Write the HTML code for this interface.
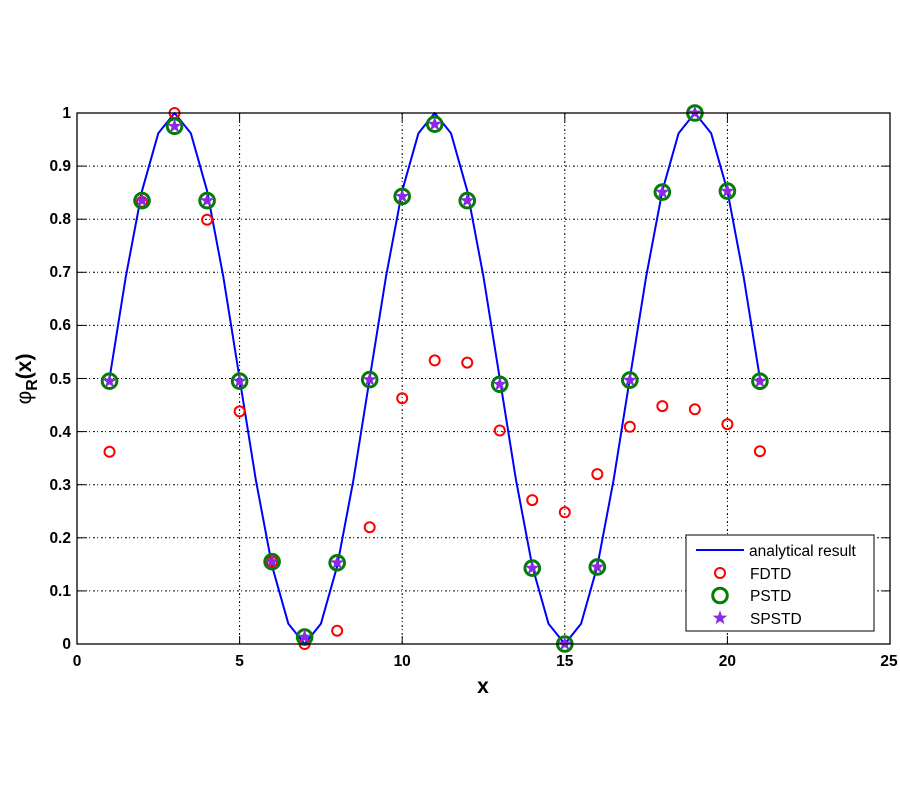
<!DOCTYPE html>
<html>
<head>
<meta charset="utf-8">
<style>
html,body{margin:0;padding:0;background:#fff;}
svg{display:block;}
text{font-family:"Liberation Sans",Arial,sans-serif;}
</style>
</head>
<body>
<svg width="900" height="800" viewBox="0 0 900 800" xmlns="http://www.w3.org/2000/svg">
<defs>
<polygon id="st" points="0,-6.5 1.53,-2.1 6.18,-2.01 2.47,0.8 3.82,5.26 0,2.6 -3.82,5.26 -2.47,0.8 -6.18,-2.01 -1.53,-2.1" fill="#8a2be2" stroke="#8a2be2" stroke-width="0.8"/>
</defs>
<rect x="0" y="0" width="900" height="800" fill="#fff"/>
<rect x="77" y="113" width="813" height="531" fill="#fff"/>
<!-- grid -->
<g stroke="#000" stroke-width="1" stroke-dasharray="2,2,1,3" fill="none">
<line x1="239.6" y1="113" x2="239.6" y2="644"/>
<line x1="402.2" y1="113" x2="402.2" y2="644"/>
<line x1="564.8" y1="113" x2="564.8" y2="644"/>
<line x1="727.4" y1="113" x2="727.4" y2="644"/>
<line x1="77" y1="590.9" x2="890" y2="590.9"/>
<line x1="77" y1="537.8" x2="890" y2="537.8"/>
<line x1="77" y1="484.7" x2="890" y2="484.7"/>
<line x1="77" y1="431.6" x2="890" y2="431.6"/>
<line x1="77" y1="378.5" x2="890" y2="378.5"/>
<line x1="77" y1="325.4" x2="890" y2="325.4"/>
<line x1="77" y1="272.3" x2="890" y2="272.3"/>
<line x1="77" y1="219.2" x2="890" y2="219.2"/>
<line x1="77" y1="166.1" x2="890" y2="166.1"/>
</g>
<!-- ticks -->
<g stroke="#000" stroke-width="1">
<line x1="239.6" y1="644" x2="239.6" y2="636"/><line x1="239.6" y1="113" x2="239.6" y2="121"/>
<line x1="402.2" y1="644" x2="402.2" y2="636"/><line x1="402.2" y1="113" x2="402.2" y2="121"/>
<line x1="564.8" y1="644" x2="564.8" y2="636"/><line x1="564.8" y1="113" x2="564.8" y2="121"/>
<line x1="727.4" y1="644" x2="727.4" y2="636"/><line x1="727.4" y1="113" x2="727.4" y2="121"/>
<line x1="77" y1="590.9" x2="85" y2="590.9"/><line x1="890" y1="590.9" x2="882" y2="590.9"/>
<line x1="77" y1="537.8" x2="85" y2="537.8"/><line x1="890" y1="537.8" x2="882" y2="537.8"/>
<line x1="77" y1="484.7" x2="85" y2="484.7"/><line x1="890" y1="484.7" x2="882" y2="484.7"/>
<line x1="77" y1="431.6" x2="85" y2="431.6"/><line x1="890" y1="431.6" x2="882" y2="431.6"/>
<line x1="77" y1="378.5" x2="85" y2="378.5"/><line x1="890" y1="378.5" x2="882" y2="378.5"/>
<line x1="77" y1="325.4" x2="85" y2="325.4"/><line x1="890" y1="325.4" x2="882" y2="325.4"/>
<line x1="77" y1="272.3" x2="85" y2="272.3"/><line x1="890" y1="272.3" x2="882" y2="272.3"/>
<line x1="77" y1="219.2" x2="85" y2="219.2"/><line x1="890" y1="219.2" x2="882" y2="219.2"/>
<line x1="77" y1="166.1" x2="85" y2="166.1"/><line x1="890" y1="166.1" x2="882" y2="166.1"/>
</g>
<!-- analytical line -->
<polyline fill="none" stroke="#0000ff" stroke-width="2" stroke-linejoin="round" points="109.52,378.5 125.78,276.9 142.04,190.8 158.3,133.2 174.56,113 190.82,133.2 207.08,190.8 223.34,276.9 239.6,378.5 255.86,480.1 272.12,566.2 288.38,623.8 304.64,644 320.9,623.8 337.16,566.2 353.42,480.1 369.68,378.5 385.94,276.9 402.2,190.8 418.46,133.2 434.72,113 450.98,133.2 467.24,190.8 483.5,276.9 499.76,378.5 516.02,480.1 532.28,566.2 548.54,623.8 564.8,644 581.06,623.8 597.32,566.2 613.58,480.1 629.84,378.5 646.1,276.9 662.36,190.8 678.62,133.2 694.88,113 711.14,133.2 727.4,190.8 743.66,276.9 759.92,378.5"/>
<!-- FDTD -->
<g fill="none" stroke="#ff0000" stroke-width="2">
<circle cx="109.52" cy="451.8" r="5"/>
<circle cx="142.04" cy="201.7" r="5"/>
<circle cx="174.56" cy="113" r="5"/>
<circle cx="207.08" cy="219.7" r="5"/>
<circle cx="239.6" cy="411.4" r="5"/>
<circle cx="272.12" cy="561.7" r="5"/>
<circle cx="304.64" cy="644" r="5"/>
<circle cx="337.16" cy="630.7" r="5"/>
<circle cx="369.68" cy="527.2" r="5"/>
<circle cx="402.2" cy="398.3" r="5"/>
<circle cx="434.72" cy="360.4" r="5"/>
<circle cx="467.24" cy="362.6" r="5"/>
<circle cx="499.76" cy="430.5" r="5"/>
<circle cx="532.28" cy="500.1" r="5"/>
<circle cx="564.8" cy="512.3" r="5"/>
<circle cx="597.32" cy="474.1" r="5"/>
<circle cx="629.84" cy="426.8" r="5"/>
<circle cx="662.36" cy="406.1" r="5"/>
<circle cx="694.88" cy="409.3" r="5"/>
<circle cx="727.4" cy="424.2" r="5"/>
<circle cx="759.92" cy="451.2" r="5"/>
</g>
<!-- PSTD -->
<g fill="none" stroke="#007f00" stroke-width="3">
<circle cx="109.52" cy="381.2" r="7.3"/>
<circle cx="142.04" cy="200.6" r="7.3"/>
<circle cx="174.56" cy="126.3" r="7.3"/>
<circle cx="207.08" cy="200.6" r="7.3"/>
<circle cx="239.6" cy="381.2" r="7.3"/>
<circle cx="272.12" cy="561.7" r="7.3"/>
<circle cx="304.64" cy="637.1" r="7.3"/>
<circle cx="337.16" cy="562.8" r="7.3"/>
<circle cx="369.68" cy="379.6" r="7.3"/>
<circle cx="402.2" cy="196.4" r="7.3"/>
<circle cx="434.72" cy="124.2" r="7.3"/>
<circle cx="467.24" cy="200.6" r="7.3"/>
<circle cx="499.76" cy="384.3" r="7.3"/>
<circle cx="532.28" cy="568.1" r="7.3"/>
<circle cx="564.8" cy="644" r="7.3"/>
<circle cx="597.32" cy="567" r="7.3"/>
<circle cx="629.84" cy="380.1" r="7.3"/>
<circle cx="662.36" cy="192.1" r="7.3"/>
<circle cx="694.88" cy="113" r="7.3"/>
<circle cx="727.4" cy="191.1" r="7.3"/>
<circle cx="759.92" cy="381.2" r="7.3"/>
</g>
<!-- SPSTD -->
<g>
<use href="#st" x="109.52" y="381.2"/>
<use href="#st" x="142.04" y="200.6"/>
<use href="#st" x="174.56" y="126.3"/>
<use href="#st" x="207.08" y="200.6"/>
<use href="#st" x="239.6" y="381.2"/>
<use href="#st" x="272.12" y="561.7"/>
<use href="#st" x="304.64" y="637.1"/>
<use href="#st" x="337.16" y="562.8"/>
<use href="#st" x="369.68" y="379.6"/>
<use href="#st" x="402.2" y="196.4"/>
<use href="#st" x="434.72" y="124.2"/>
<use href="#st" x="467.24" y="200.6"/>
<use href="#st" x="499.76" y="384.3"/>
<use href="#st" x="532.28" y="568.1"/>
<use href="#st" x="564.8" y="644"/>
<use href="#st" x="597.32" y="567"/>
<use href="#st" x="629.84" y="380.1"/>
<use href="#st" x="662.36" y="192.1"/>
<use href="#st" x="694.88" y="113"/>
<use href="#st" x="727.4" y="191.1"/>
<use href="#st" x="759.92" y="381.2"/>
</g>
<!-- axes box -->
<rect x="77" y="113" width="813" height="531" fill="none" stroke="#000" stroke-width="1.3"/>
<!-- y tick labels -->
<g font-size="15.5" font-weight="bold" text-anchor="end" fill="#000">
<text x="71" y="649">0</text>
<text x="71" y="596">0.1</text>
<text x="71" y="543">0.2</text>
<text x="71" y="490">0.3</text>
<text x="71" y="437">0.4</text>
<text x="71" y="384">0.5</text>
<text x="71" y="330">0.6</text>
<text x="71" y="277">0.7</text>
<text x="71" y="224">0.8</text>
<text x="71" y="171">0.9</text>
<text x="71" y="118">1</text>
</g>
<!-- x tick labels -->
<g font-size="15.5" font-weight="bold" text-anchor="middle" fill="#000">
<text x="77" y="666">0</text>
<text x="239.6" y="666">5</text>
<text x="402.2" y="666">10</text>
<text x="564.8" y="666">15</text>
<text x="727.4" y="666">20</text>
<text x="889" y="666">25</text>
</g>
<!-- axis labels -->
<text x="483" y="693" font-size="21" font-weight="bold" text-anchor="middle">x</text>
<text transform="translate(31,379) rotate(-90)" font-size="21" text-anchor="middle"><tspan font-weight="normal">φ</tspan><tspan font-weight="bold" font-size="16" dy="6">R</tspan><tspan font-weight="bold" dy="-6">(x)</tspan></text>
<!-- legend -->
<rect x="686" y="535" width="188" height="96" fill="#fff" stroke="#000" stroke-width="1"/>
<line x1="696" y1="550" x2="744" y2="550" stroke="#0000ff" stroke-width="2"/>
<circle cx="720" cy="573" r="5" fill="none" stroke="#ff0000" stroke-width="2"/>
<circle cx="720" cy="595.5" r="7.3" fill="none" stroke="#007f00" stroke-width="3"/>
<use href="#st" x="720" y="618"/>
<g font-size="15.5" fill="#000">
<text x="749" y="556">analytical result</text>
<text x="750" y="579">FDTD</text>
<text x="750" y="601">PSTD</text>
<text x="750" y="624">SPSTD</text>
</g>
</svg>
</body>
</html>
